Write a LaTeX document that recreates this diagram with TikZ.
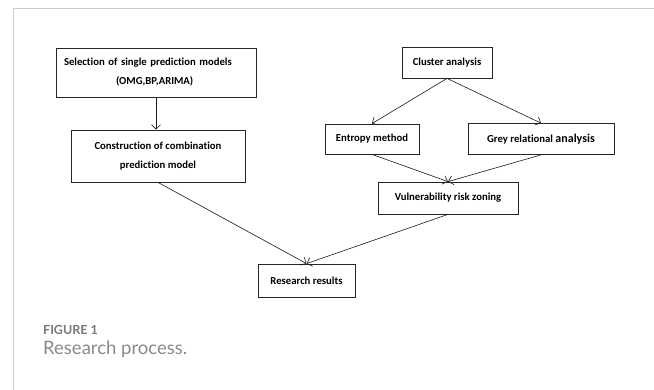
\documentclass[tikz,border=0pt]{standalone}
\usepackage{fontspec}
\setmainfont{Carlito}[Ligatures=NoCommon]
\newfontfamily\capfont{Lato}
\usetikzlibrary{arrows.meta}
\definecolor{framegray}{HTML}{CCCCCC}
\definecolor{capgray}{HTML}{787878}
\definecolor{capgraylight}{HTML}{8A8A8A}
\begin{document}
\begin{tikzpicture}[x=1pt,y=-1pt,
  box/.style={draw=black!85, line width=0.8pt, rectangle, inner sep=0pt,
    font=\fontsize{10.7}{19}\selectfont\bfseries, align=center},
  conn/.style={draw=black!90, line width=0.6pt,
    -{Straight Barb[length=4.5pt,width=9pt,line width=0.6pt]}}
]
\useasboundingbox (0,0) rectangle (654,390);
\fill[white] (0,0) rectangle (654,390);
% frame
\draw[framegray, line width=1pt] (13,390) -- (13,9) -- (654,9);

% boxes
\node[box, minimum width=200pt, minimum height=49pt, text width=184pt, align=left] (sel) at (156,72.5)
  {Selection of single prediction models\\\hspace*{52pt}(OMG,BP,ARIMA)};
\node[box, minimum width=174pt, minimum height=52pt] (comb) at (158,156)
  {Construction of combination\\prediction model};
\node[box, minimum width=90pt, minimum height=31pt] (clus) at (447,62.5) {Cluster analysis};
\node[box, minimum width=94pt, minimum height=30pt] (entr) at (372,139) {Entropy method};
\node[box, minimum width=146pt, minimum height=31pt] (grey) at (541,139)
  {Grey relational {\fontsize{12}{14}\selectfont analysis}};
\node[box, minimum width=140pt, minimum height=32pt] (vuln) at (448,198) {Vulnerability risk zoning};
\node[box, minimum width=97pt, minimum height=33pt] (res) at (306.5,280.5) {Research results};

% connectors
\draw[conn] (sel.south) -- (sel.south |- comb.north);
\draw[conn] (clus.south) -- (entr.north);
\draw[conn] (clus.south) -- (grey.north);
\draw[conn] (entr.south) -- (vuln.north);
\draw[conn] (grey.south) -- (vuln.north);
\draw[conn] (comb.south) -- (res.north);
\draw[conn] (vuln.south) -- (res.north);

% caption
\node[anchor=base west, inner sep=0pt, text=capgray, font=\capfont\bfseries\fontsize{12.5}{14}\selectfont] (fig) at (43,335) {FIGURE 1};
\node[anchor=base west, inner sep=0pt, text=capgraylight, font=\capfont\fontsize{18.5}{20}\selectfont] (cap) at (43,354.5) {Research process.};
\end{tikzpicture}
\end{document}
